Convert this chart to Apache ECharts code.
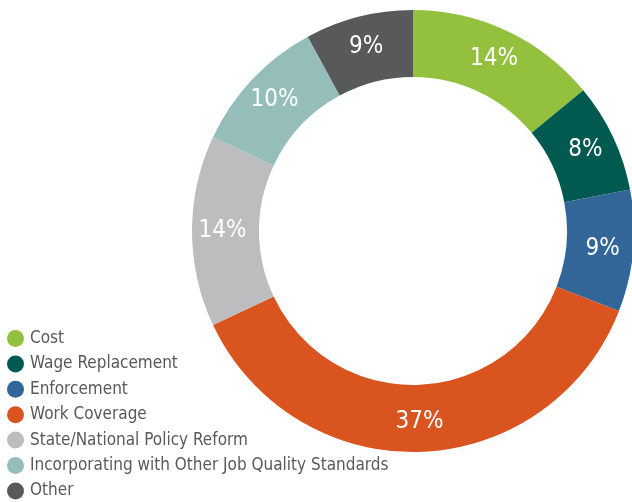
<!DOCTYPE html>
<html><head><meta charset="utf-8">
<script src="https://cdn.jsdelivr.net/npm/echarts@6/dist/echarts.min.js"></script>
<style>html,body{margin:0;padding:0;background:#fff}#c{width:632px;height:502px}</style>
</head><body><div id="c"></div>
<script>
const categories = ['Cost','Wage Replacement','Enforcement','Work Coverage','State/National Policy Reform','Incorporating with Other Job Quality Standards','Other'];
const values = [14, 8, 8.9, 37.1, 14, 10.1, 7.9];
const labels = ['14%','8%','9%','37%','14%','10%','9%'];
const colors = ['#93c13e','#005a4f','#326699','#d9541f','#bcbdbf','#95bdba','#58595b'];
const FONT = '"Liberation Sans Narrow","DejaVu Sans Condensed",sans-serif';
const chart = echarts.init(document.getElementById('c'), null, {renderer:'canvas'});
chart.setOption({
  animation:false,
  color: colors,
  legend:{
    orient:'vertical', left:7, top:330, padding:0, icon:'circle', itemWidth:17, itemHeight:17, itemGap:8.4,
    height:180,
    textStyle:{fontFamily:FONT, fontSize:17, lineHeight:17, color:'#58595b', padding:[0,0,0,1]},
    data: categories
  },
  series:[{
    type:'pie', center:[413,231], radius:[154,221], startAngle:90, clockwise:true,
    avoidLabelOverlap:false,
    label:{show:true, position:'inside', fontFamily:FONT, fontSize:24, color:'#ffffff',
      formatter: p => labels[p.dataIndex]},
    labelLine:{show:false},
    emphasis:{disabled:true},
    data: categories.map((n,i)=>({name:n, value:values[i]}))
  }]
});
</script></body></html>
